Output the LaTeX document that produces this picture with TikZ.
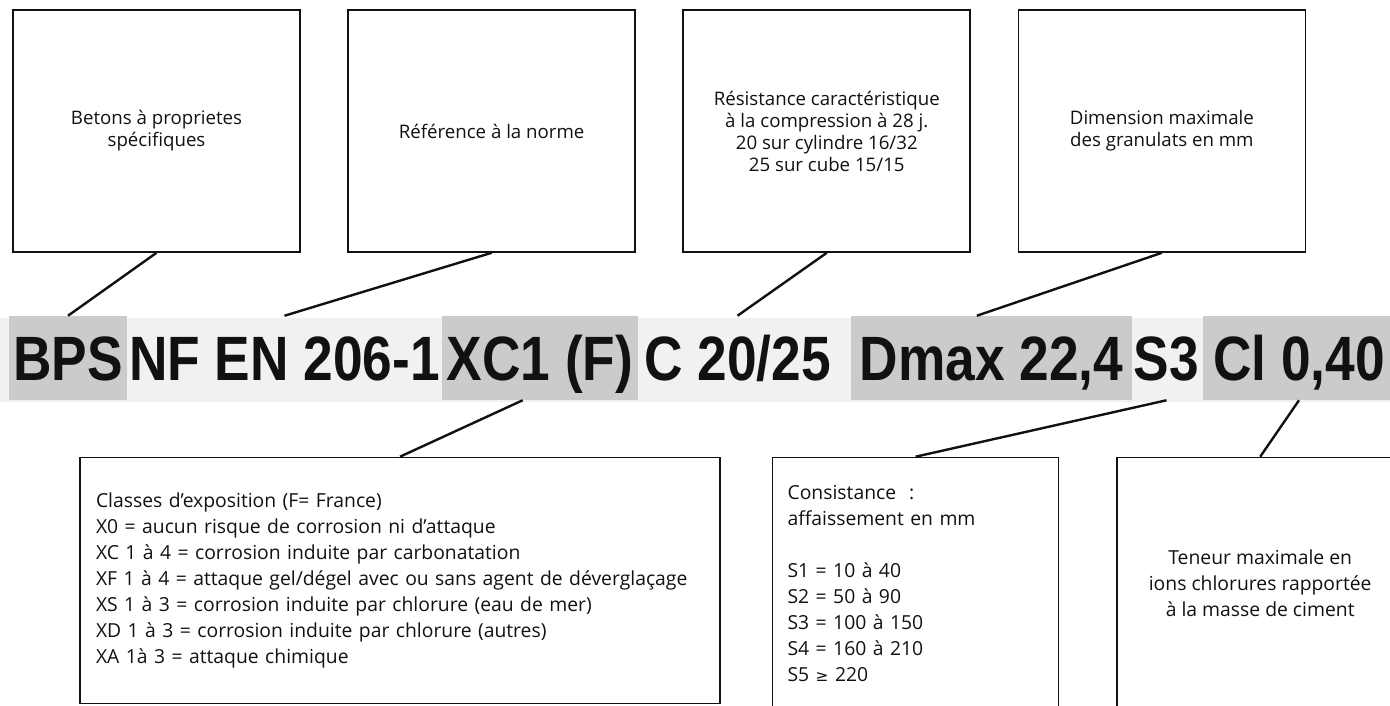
\documentclass[tikz,border=0pt]{standalone}
\usepackage{fontspec}
\setmainfont{Open Sans}
\newfontfamily\grosfont[FakeStretch=0.85]{Liberation Sans Bold}
\newfontfamily\symfont{DejaVu Sans}
\usetikzlibrary{positioning}
\definecolor{ink}{HTML}{111111}
\definecolor{grain}{HTML}{CBCBCB}
\definecolor{grainl}{HTML}{F1F1F1}
\tikzset{
  bx/.style={draw=ink, line width=1.2pt, minimum width=215.25pt, minimum height=181.5pt, inner sep=0pt, align=center, text=ink, font=\fontsize{14}{16.5}\selectfont},
  bl/.style={bx, align=left, font=\fontsize{14.5}{19.5}\selectfont},
  wd/.style={font=\grosfont\fontsize{47}{47}\selectfont, text=ink, text height=33.75pt, text depth=0pt, minimum height=63pt, inner sep=0pt},
  wg/.style={wd, fill=grain},
  ln/.style={draw=ink, line width=1.8pt},
}

\begin{document}
\begin{tikzpicture}[x=0.75pt, y=-0.75pt]
\useasboundingbox (0,0) rectangle (1390,706);
\clip (0,0) rectangle (1390,706);
% bandeau de la designation
\fill[grainl] (0,318) rectangle (1390,402);
\node[wg, minimum width=88.5pt] (bps) at (68,358) {BPS};
\node[wd] (nf) at (284.5,358) {NF EN 206-1};
\node[wg, minimum width=147pt] (xc) at (540,358) {XC1 (F)};
\node[wd] (cc) at (737.5,358) {C 20/25};
\node[wg, minimum width=210.75pt] (dmax) at (991.5,358) {Dmax 22,4};
\node[wd] (s3) at (1166.5,358) {S3};
\node[wg, minimum width=144pt] (cl) at (1299,358) {Cl 0,40};

% cadres du haut
\node[bx] (b1) at (156.5,131) {Betons à proprietes\\spécifiques};
\node[bx, right=34.9pt of b1] (b2) {Référence à la norme};
\node[bx, right=34.9pt of b2] (b3) {Résistance caractéristique\\à la compression à 28 j.\\20 sur cylindre 16/32\\25 sur cube 15/15};
\node[bx, right=34.9pt of b3] (b4) {Dimension maximale\\des granulats en mm};

% cadres du bas
\node[bl, minimum width=480pt, minimum height=184.5pt, text width=456pt] (b5) at (400,580.5) {Classes d'exposition (F= France)\\
X0 = aucun risque de corrosion ni d'attaque\\
XC 1 à 4 = corrosion induite par carbonatation\\
XF 1 à 4 = attaque gel/dégel avec ou sans agent de déverglaçage\\
XS 1 à 3 = corrosion induite par chlorure (eau de mer)\\
XD 1 à 3 = corrosion induite par chlorure (autres)\\
XA 1à 3 = attaque chimique};
\node[bl, minimum width=214.5pt, minimum height=189pt, text width=192pt, right=38.25pt of b5.north east, anchor=north west] (b6) {Consistance\ \ :\\
affaissement en mm\\[19.5pt]
S1 = 10 à 40\\
S2 = 50 à 90\\
S3 = 100 à 150\\
S4 = 160 à 210\\
S5 {\symfont\fontsize{11.5}{11.5}\selectfont ≥} 220};
\node[bx, minimum width=214.5pt, minimum height=189pt, font=\fontsize{14.5}{19.5}\selectfont, right=42.75pt of b6.north east, anchor=north west] (b7) {Teneur maximale en\\ions chlorures rapportée\\à la masse de ciment};

% traits de rappel
\draw[ln] (b1.south) -- (bps.north);
\draw[ln] (b2.south) -- (nf.north);
\draw[ln] (b3.south) -- (cc.north);
\draw[ln] (b4.south) -- ([xshift=-11pt]dmax.north);
\draw[ln] ([xshift=-13pt]xc.south) -- (b5.north);
\draw[ln] (s3.south) -- (b6.north);
\draw[ln] (cl.south) -- (b7.north);
\end{tikzpicture}
\end{document}
